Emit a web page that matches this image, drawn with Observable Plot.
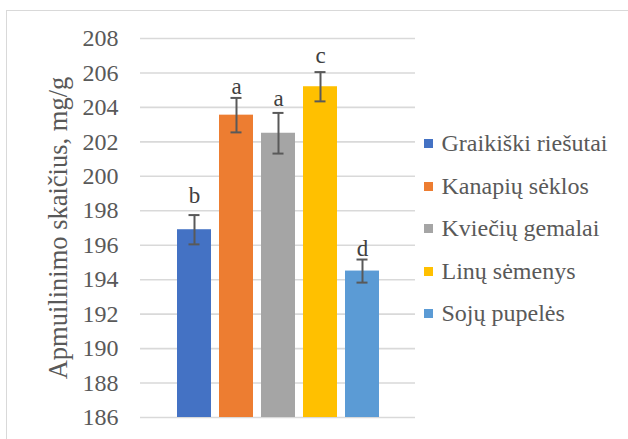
<!DOCTYPE html>
<html>
<head>
<meta charset="utf-8">
<script src="https://cdn.jsdelivr.net/npm/d3@7"></script>
<script src="https://cdn.jsdelivr.net/npm/@observablehq/plot@0.6"></script>
<style>
  html, body { margin: 0; padding: 0; background: #fff; overflow: hidden; }
  #wrap { position: relative; width: 628px; height: 439px; overflow: hidden; }
  #frame { position: absolute; left: 6px; top: 10px; width: 700px; height: 500px; border-left: 1.5px solid #d9d9d9; border-top: 1.5px solid #d9d9d9; }
  #legend { position: absolute; left: 424px; top: 122.5px; font-family: 'Liberation Serif'; font-size: 24px; color: #595959; }
  .item { display: flex; align-items: center; height: 42.5px; white-space: nowrap; }
  .sw { width: 9px; height: 9px; margin-right: 8.5px; flex: none; }
  #chart svg text { font-family: 'Liberation Serif'; }
</style>
</head>
<body>
<div id="wrap">
  <div id="frame"></div>
  <div id="chart" style="position:absolute;left:0;top:0"></div>
  <div id="legend"></div>
</div>
<script>
const categories = ["Graikiški riešutai", "Kanapių sėklos", "Kviečių gemalai", "Linų sėmenys", "Sojų pupelės"];
const values = [196.9, 203.55, 202.5, 205.2, 194.5];
const errors = [0.85, 1.0, 1.18, 0.85, 0.67];
const letters = ["b", "a", "a", "c", "d"];
const letterY = [198.44, 204.79, 204.09, 206.56, 195.38];
const colors = ["#4472C4", "#ED7D31", "#A5A5A5", "#FFC000", "#5B9BD5"];
const yTicks = [186, 188, 190, 192, 194, 196, 198, 200, 202, 204, 206, 208];
const yTitle = "Apmuilinimo skaičius, mg/g";

const data = categories.map((c, i) => ({cat: c, v: values[i], e: errors[i], l: letters[i], ly: letterY[i]}));
const font = "Liberation Serif";

const chart = Plot.plot({
  width: 628,
  height: 439,
  marginLeft: 140,
  marginRight: 213,
  marginTop: 38,
  marginBottom: 22,
  style: {fontFamily: font, background: "transparent"},
  x: {domain: categories, paddingInner: 0.195, paddingOuter: 0.852, axis: null},
  y: {domain: [186, 208], ticks: yTicks, axis: null},
  color: {domain: categories, range: colors},
  marks: [
    Plot.ruleY(yTicks, {stroke: "#d9d9d9", strokeWidth: 1.6, strokeOpacity: 1}),
    Plot.barY(data, {x: "cat", y1: 186, y2: "v", fill: "cat"}),
    Plot.ruleX(data, {x: "cat", y1: d => d.v - d.e, y2: d => d.v + d.e, stroke: "#595959", strokeWidth: 2}),
    Plot.tickY(data, {x: "cat", y: d => d.v + d.e, stroke: "#595959", strokeWidth: 2, insetLeft: 11.5, insetRight: 11.5}),
    Plot.tickY(data, {x: "cat", y: d => d.v - d.e, stroke: "#595959", strokeWidth: 2, insetLeft: 11.5, insetRight: 11.5}),
    Plot.text(data, {x: "cat", y: "ly", text: "l", lineAnchor: "bottom", fontSize: 23, fill: "#404040", fontFamily: font}),
    Plot.axisY({ticks: yTicks, tickSize: 0, tickPadding: 22, fontSize: 24, fill: "#595959", fontFamily: font, label: null}),
    Plot.text([yTitle], {frameAnchor: "left", textAnchor: "middle", rotate: -90, dx: -82, text: d => d, fontSize: 26.5, fill: "#595959", fontFamily: font})
  ]
});
document.getElementById("chart").appendChild(chart);

const legend = document.getElementById("legend");
categories.forEach((c, i) => {
  const row = document.createElement("div");
  row.className = "item";
  const sw = document.createElement("span");
  sw.className = "sw";
  sw.style.background = colors[i];
  const t = document.createElement("span");
  t.textContent = c;
  row.appendChild(sw);
  row.appendChild(t);
  legend.appendChild(row);
});
</script>
</body>
</html>
